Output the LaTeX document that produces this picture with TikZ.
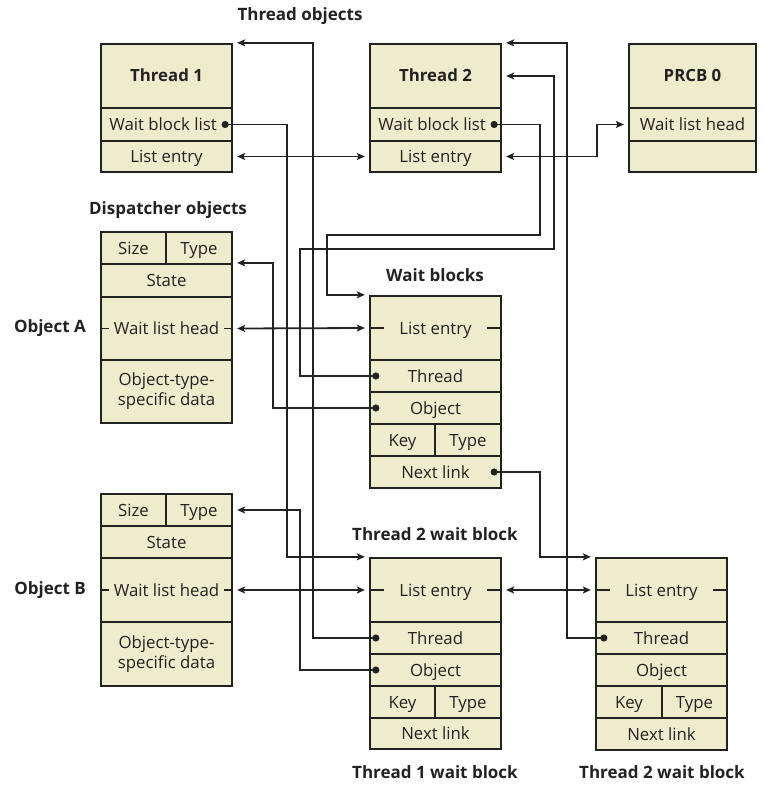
\documentclass[tikz,border=0pt]{standalone}
\usepackage{fontspec}
\setmainfont{Open Sans}
\usetikzlibrary{arrows.meta,calc}
\definecolor{boxfill}{HTML}{EFEBCD}
\definecolor{ink}{HTML}{222222}
\tikzset{
  cellbase/.style={draw=ink, fill=boxfill, line width=2.3pt, inner sep=0pt, align=center,
    text=ink, font=\fontsize{16.8}{20}\selectfont},
  cell/.style={cellbase, text height=12pt, text depth=0pt},
  datacell/.style={cellbase, yshift=-1.5pt, inner ysep=0pt},
  titlecell/.style={cell, font=\fontsize{16.8}{20}\selectfont\bfseries},
  lbl/.style={text=ink, inner sep=0pt, font=\fontsize{17}{20}\selectfont\bfseries},
  conn/.style={draw=ink, line width=1.8pt},
  arr/.style={conn, -{Stealth[length=8pt,width=7pt,inset=1.8pt]}},
  dbl/.style={conn, {Stealth[length=8pt,width=7pt,inset=1.8pt]}-{Stealth[length=8pt,width=7pt,inset=1.8pt]}},
  stub/.style={draw=ink, line width=1.8pt},
}
\newcommand\cellbox[7][cell]{%
  \node[#1, minimum width={(#5-#3)*1pt}, minimum height={(#6-#4)*1pt}]
    (#2) at ({(#3+#5)/2},{(#4+#6)/2}) {#7};}
\newcommand\dotat[1]{\fill[ink] (#1) circle (3.6pt);}
\begin{document}
\begin{tikzpicture}[x=1pt,y=-1pt]
\useasboundingbox (0,0) rectangle (773,797);

% ---- labels
\node[lbl] (lthreads) at (300,16) {Thread objects};
\node[lbl] (ldisp) at (168,210) {Dispatcher objects};
\node[lbl] (lwait) at (435,275) {Wait blocks};
\node[lbl, anchor=east] (lobja) at (86,328) {Object A};
\node[lbl, anchor=east] (lobjb) at (86,590) {Object B};
\node[lbl] (lt2wbtop) at (435,534) {Thread 2 wait block};
\node[lbl] (lt1wb) at (435,772) {Thread 1 wait block};
\node[lbl] (lt2wb) at (662,772) {Thread 2 wait block};

% ---- Thread 1
\cellbox[titlecell]{t1title}{101}{44}{232}{108}{Thread 1}
\cellbox{t1wbl}{101}{108}{232}{141}{Wait block list\hspace*{7pt}}
\cellbox{t1le}{101}{141}{232}{172}{List entry}
% ---- Thread 2
\cellbox[titlecell]{t2title}{370}{44}{501}{108}{Thread 2}
\cellbox{t2wbl}{370}{108}{501}{141}{Wait block list\hspace*{7pt}}
\cellbox{t2le}{370}{141}{501}{172}{List entry}
% ---- PRCB 0
\cellbox[titlecell]{prcbtitle}{629}{44}{756}{108}{PRCB 0}
\cellbox{prcbwlh}{629}{108}{756}{141}{Wait list head}
\cellbox{prcbempty}{629}{141}{756}{172}{}

% ---- Object A
\cellbox{objAsize}{101}{232}{166}{264}{Size}
\cellbox{objAtype}{166}{232}{232}{264}{Type}
\cellbox{objAstate}{101}{264}{232}{297}{State}
\cellbox{objAwlh}{101}{297}{232}{360}{Wait list head}
\cellbox[cellbase]{objAdata}{101}{360}{232}{423}{Object-type-\\specific data}
% ---- Object B
\cellbox{objBsize}{101}{494}{166}{526}{Size}
\cellbox{objBtype}{166}{494}{232}{526}{Type}
\cellbox{objBstate}{101}{526}{232}{558}{State}
\cellbox{objBwlh}{101}{558}{232}{622}{Wait list head}
\cellbox[cellbase]{objBdata}{101}{622}{232}{686}{Object-type-\\specific data}

% ---- Wait block A
\cellbox{wbAle}{370}{296}{501}{360}{List entry}
\cellbox{wbAth}{370}{360}{501}{392}{Thread}
\cellbox{wbAob}{370}{392}{501}{424}{Object}
\cellbox{wbAkey}{370}{424}{435}{456}{Key}
\cellbox{wbAty}{435}{424}{501}{456}{Type}
\cellbox{wbAnx}{370}{456}{501}{488}{Next link}
% ---- Thread 1 wait block
\cellbox{wb1le}{370}{558}{501}{622}{List entry}
\cellbox{wb1th}{370}{622}{501}{654}{Thread}
\cellbox{wb1ob}{370}{654}{501}{686}{Object}
\cellbox{wb1key}{370}{686}{435}{718}{Key}
\cellbox{wb1ty}{435}{686}{501}{718}{Type}
\cellbox{wb1nx}{370}{718}{501}{749}{Next link}
% ---- Thread 2 wait block
\cellbox{wb2le}{596}{558}{727}{622}{List entry}
\cellbox{wb2th}{596}{622}{727}{654}{Thread}
\cellbox{wb2ob}{596}{654}{727}{686}{Object}
\cellbox{wb2key}{596}{686}{662}{718}{Key}
\cellbox{wb2ty}{662}{686}{727}{718}{Type}
\cellbox{wb2nx}{596}{718}{727}{750}{Next link}

% ---- stubs on list heads / entries
\foreach \n in {objAwlh,objBwlh}{
  \draw[stub] (\n.west) -- ++(9,0);
  \draw[stub] (\n.east) -- ++(-9,0);
}
\foreach \n in {wbAle,wb1le,wb2le}{
  \draw[stub] (\n.west) -- ++(15,0);
  \draw[stub] (\n.east) -- ++(-15,0);
}

% ---- lanes
\coordinate (L273) at (273,0);
\coordinate (L287) at (287,0);
\coordinate (L300) at (300,0);
\coordinate (L313) at (313,0);
\coordinate (L327) at (327,0);
\coordinate (L540) at (540,0);
\coordinate (L554) at (554,0);
\coordinate (L567) at (567,0);
\coordinate (L597) at (597,0);
\coordinate (H235) at (0,235);
\coordinate (H249) at (0,249);

% ---- pointer origins (dots)
\coordinate (d1) at ($(t1wbl.east)+(-8,0)$);
\coordinate (d2) at ($(t2wbl.east)+(-8,0)$);
\coordinate (dAth) at ($(wbAth.west)+(7,0)$);
\coordinate (dAob) at ($(wbAob.west)+(7,0)$);
\coordinate (dAnx) at ($(wbAnx.east)+(-8,0)$);
\coordinate (d1th) at ($(wb1th.west)+(7,0)$);
\coordinate (d1ob) at ($(wb1ob.west)+(7,0)$);
\coordinate (d2th) at ($(wb2th.west)+(9,0)$);

% ---- pointer targets
\coordinate (t1top) at ($(t1title.north east)+(4,0)$);
\coordinate (t2top) at ($(t2title.north east)+(4,0)$);
\coordinate (t2mid) at ($(t2title.east)+(4,0)$);
\coordinate (wbAtop) at ($(wbAle.north west)+(-4,0)$);
\coordinate (wb1top) at ($(wb1le.north west)+(-4,0)$);
\coordinate (wb2top) at ($(wb2le.north west)+(-4,0)$);
\coordinate (objAhdr) at ($(objAstate.north east)+(4,0)$);
\coordinate (objBhdr) at ($(objBtype.east)+(4,0)$);

% ---- double-linked list entries
\draw[dbl] ($(t1le.east)+(4,0)$) -- ($(t2le.west)+(-4,0)$);
\draw[dbl] ($(t2le.east)+(4,0)$) -| (L597 |- prcbwlh) -- ($(prcbwlh.west)+(-4,0)$);
\draw[dbl] ($(objAwlh.east)+(4,0)$) -- ($(wbAle.west)+(-4,0)$);
\draw[dbl] ($(objBwlh.east)+(4,0)$) -- ($(wb1le.west)+(-4,0)$);
\draw[dbl] ($(wb1le.east)+(4,0)$) -- ($(wb2le.west)+(-4,0)$);

% ---- pointers
\draw[arr] (d1) -| (L287 |- wb1top) -- (wb1top);
\draw[arr] (d1th) -| (L313 |- t1top) -- (t1top);
\draw[arr] (d2) -| (L540 |- H235) -| (L327 |- wbAtop) -- (wbAtop);
\draw[arr] (d2th) -| (L567 |- t2top) -- (t2top);
\draw[arr] (dAth) -| (L300 |- H249) -| (L554 |- t2mid) -- (t2mid);
\draw[arr] (dAob) -| (L273 |- objAhdr) -- (objAhdr);
\draw[arr] (dAnx) -| (L540 |- wb2top) -- (wb2top);
\draw[arr] (d1ob) -| (L300 |- objBhdr) -- (objBhdr);

\foreach \d in {d1,d2,dAth,dAob,dAnx,d1th,d1ob,d2th}{\dotat{\d}}
\end{tikzpicture}
\end{document}
